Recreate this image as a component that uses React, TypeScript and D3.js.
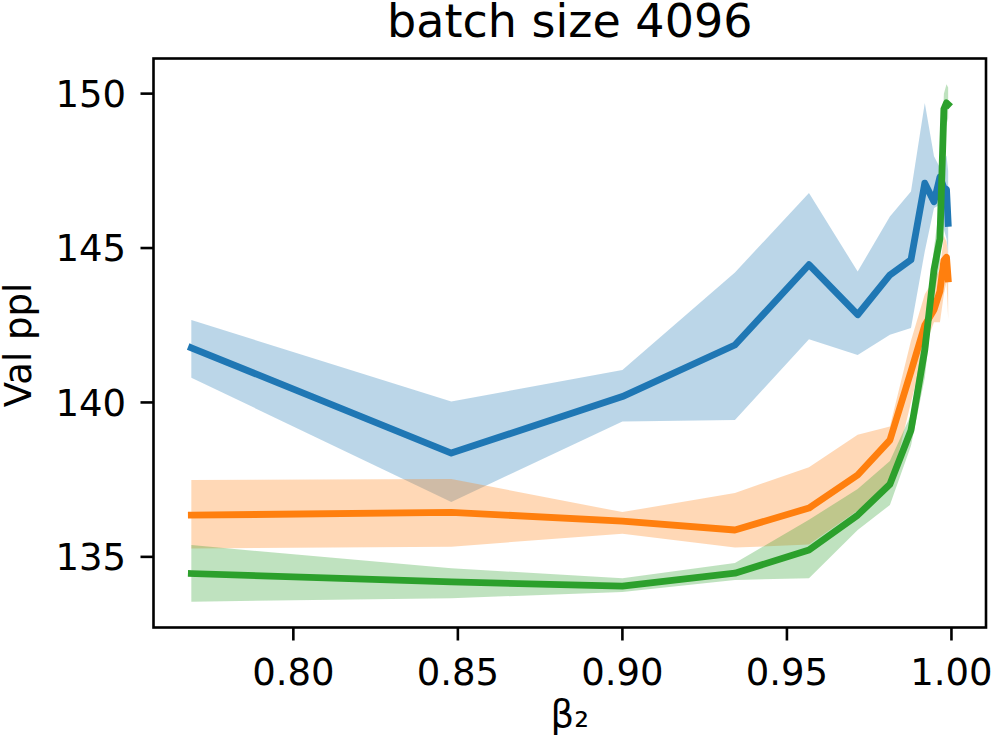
import React from "react";
import * as d3 from "d3";

const beta2 = [0.769, 0.848, 0.9, 0.9342, 0.9567, 0.9715, 0.9813, 0.9877, 0.9919, 0.9947, 0.9965, 0.9977, 0.9985, 0.999];

const blueMean = [141.77, 138.36, 140.19, 141.86, 144.46, 142.84, 144.13, 144.62, 147.1, 146.5, 147.3, 146.95, 146.9, 145.8];
const blueUpper = [142.67, 140.03, 141.05, 144.21, 146.78, 144.24, 146.02, 146.83, 149.7, 147.97, 147.6, 147.8, 148.0, 147.5];
const blueLower = [140.8, 136.78, 139.38, 139.43, 142.05, 141.54, 142.19, 142.41, 144.9, 146.3, 146.4, 145.6, 145.3, 144.8];

const orangeMean = [136.35, 136.44, 136.16, 135.87, 136.58, 137.65, 138.78, 141.0, 142.5, 143.0, 143.6, 144.6, 144.7, 144.0];
const orangeUpper = [137.49, 137.52, 136.45, 137.07, 137.9, 138.95, 139.22, 142.0, 143.5, 144.0, 144.3, 145.4, 145.2, 144.8];
const orangeLower = [135.27, 135.33, 135.75, 135.3, 135.4, 136.5, 137.2, 140.0, 141.8, 142.6, 142.6, 143.5, 143.9, 142.7];

const greenMean = [134.46, 134.19, 134.05, 134.47, 135.22, 136.35, 137.35, 139.1, 141.7, 144.3, 145.3, 149.5, 149.7, 149.65];
const greenUpper = [135.38, 134.63, 134.31, 134.8, 136.2, 137.2, 138.1, 139.6, 142.5, 145.0, 146.5, 150.0, 150.3, 150.2];
const greenLower = [133.55, 133.66, 133.86, 134.25, 134.31, 135.87, 136.68, 138.6, 140.8, 143.5, 144.5, 148.7, 149.0, 149.2];

const xTicks = [0.8, 0.85, 0.9, 0.95, 1.0];
const yTicks = [135, 140, 145, 150];

const titleText = "batch size 4096";
const xLabel = "β₂";
const yLabel = "Val ppl";

const seriesList = [
  { color: "#1f77b4", mean: blueMean, upper: blueUpper, lower: blueLower },
  { color: "#ff7f0e", mean: orangeMean, upper: orangeUpper, lower: orangeLower },
  { color: "#2ca02c", mean: greenMean, upper: greenUpper, lower: greenLower },
];

const W = 997;
const H = 748;
const L = 153.5, R = 986, T = 58.5, B = 627.5;
const FONT = "DejaVu Sans, sans-serif";

function padded(ext: [number, number]): [number, number] {
  const d = ext[1] - ext[0];
  return [ext[0] - 0.05 * d, ext[1] + 0.05 * d];
}

export default function App() {
  const xExt = d3.extent(beta2) as [number, number];
  const allY = seriesList.flatMap((s) => [...s.upper, ...s.lower, ...s.mean]);
  const yExt = d3.extent(allY) as [number, number];
  const x = d3.scaleLinear().domain(padded(xExt)).range([L, R]);
  const y = d3.scaleLinear().domain(padded(yExt)).range([B, T]);

  const area = (s: typeof seriesList[0]) =>
    d3
      .area<number>()
      .x((d, i) => x(beta2[i]))
      .y0((d, i) => y(s.lower[i]))
      .y1((d, i) => y(s.upper[i]))(beta2) as string;
  const line = (s: typeof seriesList[0]) =>
    d3
      .line<number>()
      .x((d, i) => x(beta2[i]))
      .y((d, i) => y(s.mean[i]))(beta2) as string;

  const fmtX = d3.format(".2f");
  const fmtY = d3.format("d");

  return (
    <svg
      width={W}
      height={H}
      style={{ position: "absolute", left: 0, top: 0, background: "#fff" }}
      fontFamily={FONT}
    >
      <rect x={0} y={0} width={W} height={H} fill="#fff" />
      {seriesList.map((s, i) => (
        <g key={i}>
          <path d={area(s)} fill={s.color} fillOpacity={0.3} stroke="none" />
          <path
            d={line(s)}
            fill="none"
            stroke={s.color}
            strokeWidth={6.8}
            strokeLinejoin="round"
            strokeLinecap="square"
          />
        </g>
      ))}
      <rect x={L} y={T} width={R - L} height={B - T} fill="none" stroke="#000" strokeWidth={2.6} />
      {xTicks.map((t) => (
        <g key={"x" + t}>
          <line x1={x(t)} x2={x(t)} y1={B} y2={B + 13} stroke="#000" strokeWidth={2.6} />
          <text x={x(t)} y={685} textAnchor="middle" fontSize={37} fill="#000">
            {fmtX(t)}
          </text>
        </g>
      ))}
      {yTicks.map((t) => (
        <g key={"y" + t}>
          <line x1={L - 13} x2={L} y1={y(t)} y2={y(t)} stroke="#000" strokeWidth={2.6} />
          <text x={126} y={y(t)} dy="0.36em" textAnchor="end" fontSize={37} fill="#000">
            {fmtY(t)}
          </text>
        </g>
      ))}
      <text x={(L + R) / 2} y={37} textAnchor="middle" fontSize={46} fill="#000">
        {titleText}
      </text>
      <text x={(L + R) / 2} y={727} textAnchor="middle" fontSize={37} fill="#000">
        {xLabel}
      </text>
      <text
        transform={`translate(31,345) rotate(-90)`}
        textAnchor="middle"
        fontSize={37}
        fill="#000"
      >
        {yLabel}
      </text>
    </svg>
  );
}
